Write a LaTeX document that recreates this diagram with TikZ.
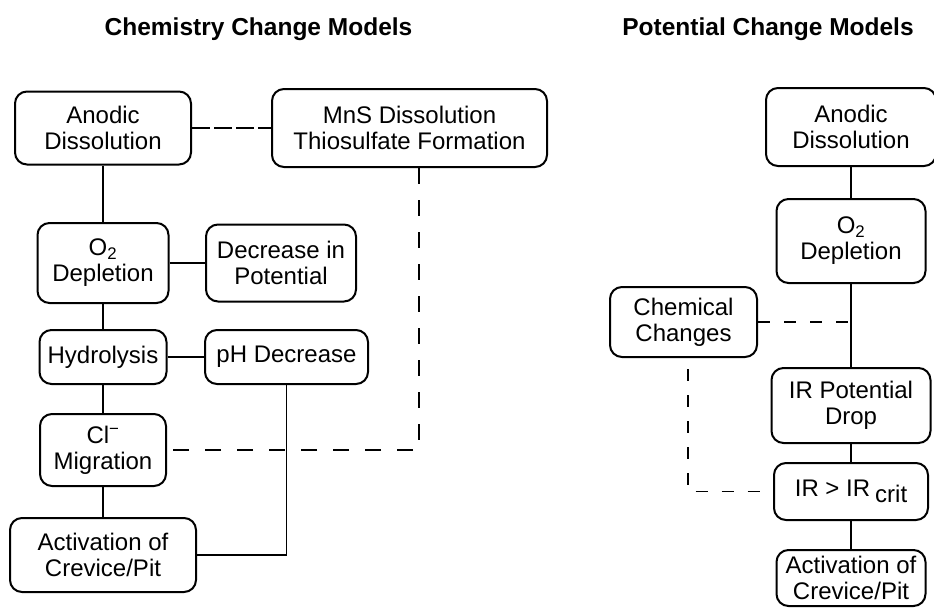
\documentclass[tikz,border=0pt]{standalone}
\usepackage{fontspec}
\setmainfont{Liberation Sans}

\begin{document}
\begin{tikzpicture}[x=1pt,y=-1pt]
	\useasboundingbox (0,0) rectangle (934,608);
	\clip (0,0) rectangle (934,608);
	
	\node[font=\fontsize{24.5}{28}\selectfont\bfseries,anchor=base] (chemtitle) at (258.5,35) {Chemistry Change Models};
	\node[font=\fontsize{24.5}{28}\selectfont\bfseries,anchor=base] (pottitle) at (768,35) {Potential Change Models};
	\begin{scope}[every node/.style={rectangle,rounded corners=12pt,draw,line width=2pt,align=center,inner sep=0pt,font=\fontsize{24}{26}\selectfont}]
		% chemistry side
		\node[minimum width=176pt,minimum height=73pt] (anodic1) at (103,128) {Anodic\\Dissolution};
		\node[minimum width=275pt,minimum height=78pt] (mns) at (409.5,128) {MnS Dissolution\\Thiosulfate Formation};
		\node[minimum width=131pt,minimum height=80pt] (oxygen1) at (103,263) {O\textsubscript{2}\\Depletion};
		\node[minimum width=150pt,minimum height=77pt] (decrease) at (281,263) {Decrease in\\Potential};
		\node[minimum width=127pt,minimum height=54pt] (hydrolysis) at (103,357) {Hydrolysis};
		\node[minimum width=163pt,minimum height=54pt] (phdecrease) at (286.5,357) {pH Decrease};
		\node[minimum width=126pt,minimum height=72pt] (chloride) at (103,450) {Cl\textsuperscript{−}\\Migration};
		\node[minimum width=186pt,minimum height=74pt] (activation1) at (103,555) {Activation of\\Crevice/Pit};
		% potential side
		\node[minimum width=170pt,minimum height=78pt] (anodic2) at (851,127) {Anodic\\Dissolution};
		\node[minimum width=149pt,minimum height=84pt] (oxygen2) at (851,241) {O\textsubscript{2}\\Depletion};
		\node[minimum width=147pt,minimum height=70pt] (chemical) at (683.5,322) {Chemical\\Changes};
		\node[minimum width=159pt,minimum height=75pt] (irdrop) at (851,405.5) {IR Potential\\Drop};
		\node[minimum width=154pt,minimum height=57pt] (ircrit) at (851,491.5) {IR > IR\hspace{5pt}\raisebox{-0.5ex}{crit}};
		\node[minimum width=149pt,minimum height=56pt] (activation2) at (851,578) {Activation of\\Crevice/Pit};
	\end{scope}
	
	\begin{scope}[line width=1.8pt]
		\draw (anodic1) -- (oxygen1);
		\draw (oxygen1) -- (hydrolysis);
		\draw (hydrolysis) -- (chloride);
		\draw (chloride) -- (activation1);
		\draw (oxygen1) -- (decrease);
		\draw (hydrolysis) -- (phdecrease);
		\draw (phdecrease.south) |- (activation1.east);
		\draw[dash pattern=on 18pt off 4pt] (anodic1) -- (mns);
		\draw[dash pattern=on 16pt off 16pt] ([xshift=9.5pt]mns.south) |- (chloride.east);
		
		\draw (anodic2) -- (oxygen2);
		\draw (oxygen2) -- (irdrop);
		\draw (irdrop) -- (ircrit);
		\draw (ircrit) -- (activation2);
		\draw[dash pattern=on 12pt off 14pt] (chemical.east) -- (chemical.east -| oxygen2.south);
		\draw[dash pattern=on 12pt off 14pt] ([xshift=4.5pt,yshift=-11pt]chemical.south) |- (ircrit.west);
	\end{scope}
\end{tikzpicture}
\end{document}
